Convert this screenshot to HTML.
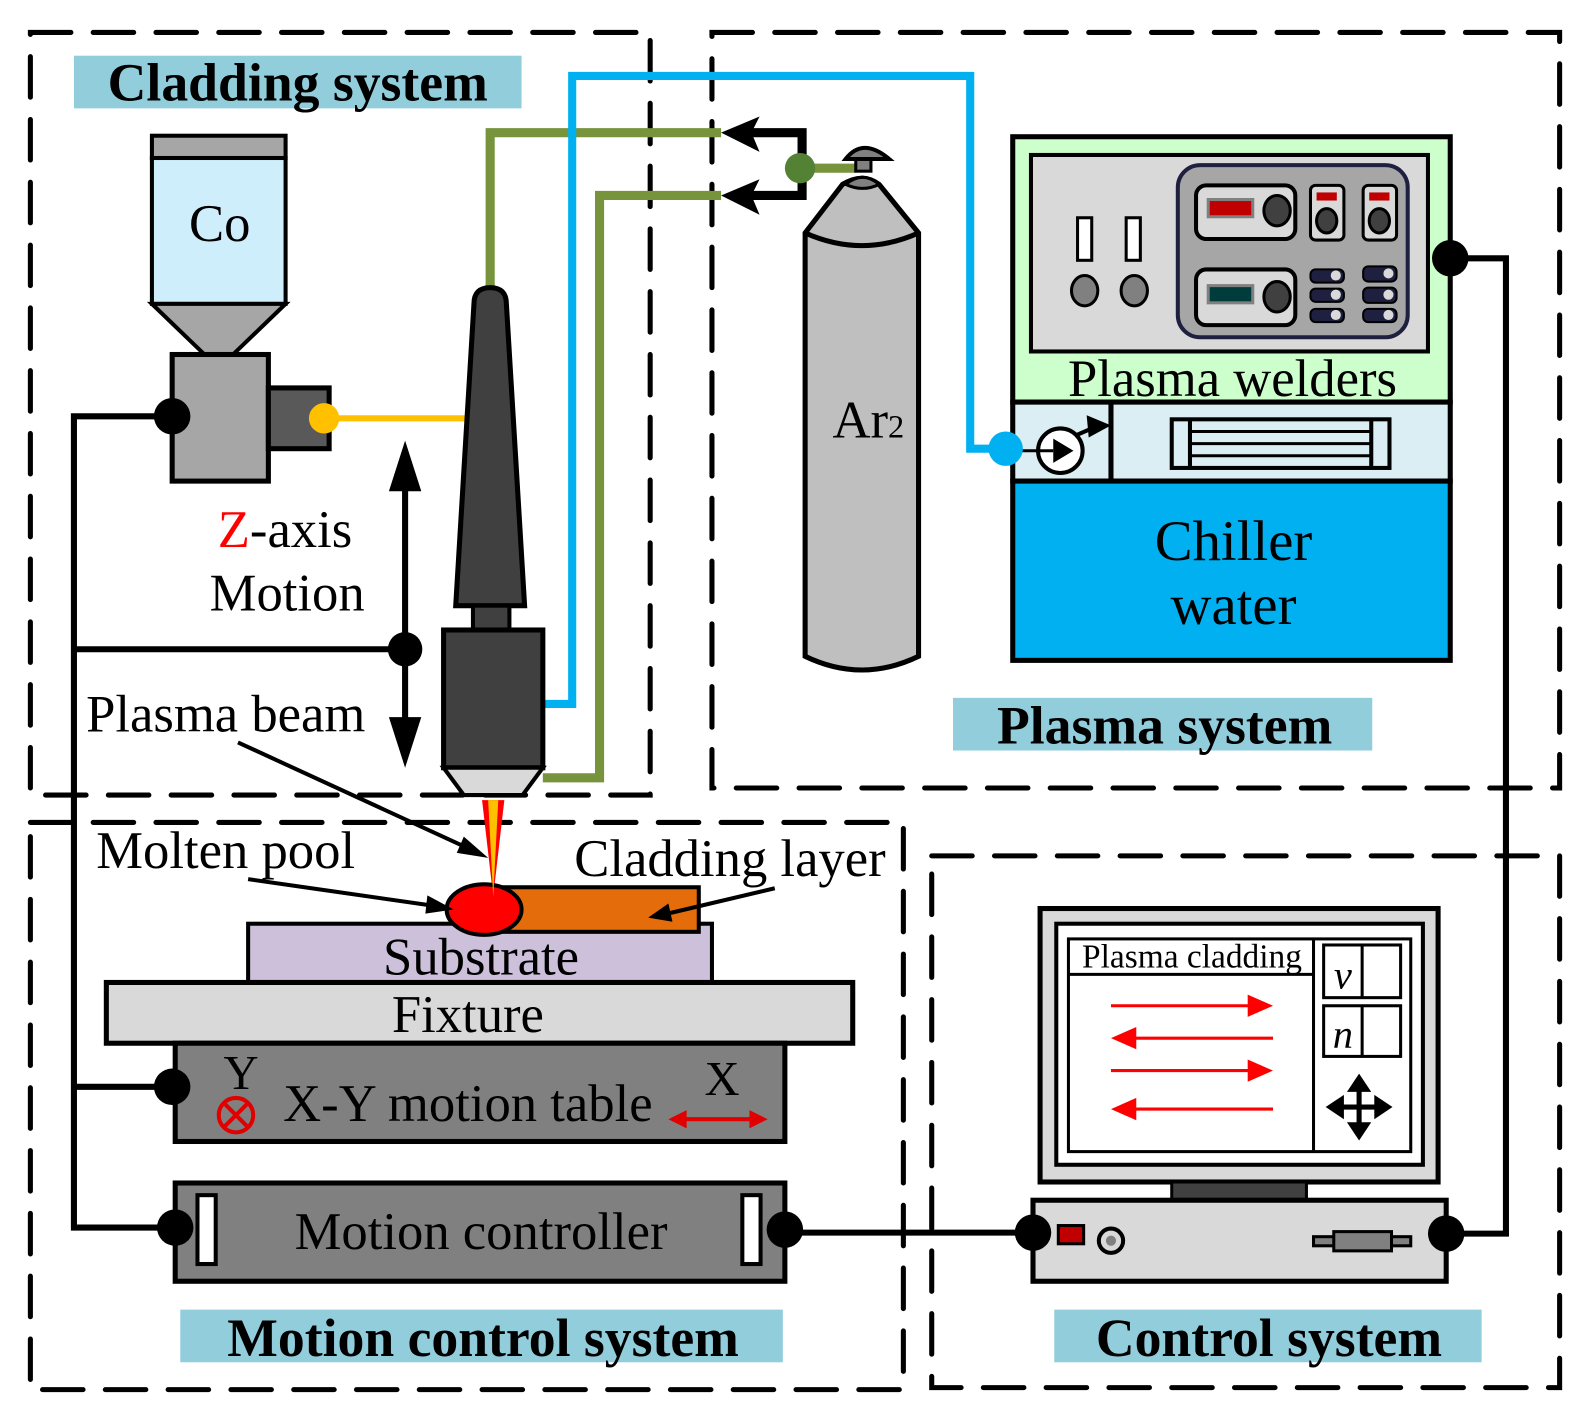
<!DOCTYPE html>
<html><head><meta charset="utf-8"><style>
html,body{margin:0;padding:0;background:#fff;}
svg{display:block;}
text{font-family:"Liberation Serif",serif;}
</style></head><body>
<svg width="1590" height="1419" viewBox="0 0 1570 1401" preserveAspectRatio="none" xmlns="http://www.w3.org/2000/svg">
<!-- dashed boxes -->
<g fill="none" stroke="#000" stroke-width="5" stroke-dasharray="40 22" stroke-linecap="round">
<rect x="30" y="32" width="612" height="753"/>
<rect x="703" y="32" width="837" height="746"/>
<rect x="30" y="812" width="862" height="560"/>
<rect x="920" y="845" width="620" height="525"/>
</g>
<!-- labels -->
<rect x="73" y="55" width="442" height="52" fill="#92CDDC"/>
<text x="294" y="99" font-size="53" font-weight="bold" text-anchor="middle">Cladding system</text>
<rect x="941" y="689" width="414" height="52" fill="#92CDDC"/>
<text x="1150" y="734" font-size="53" font-weight="bold" text-anchor="middle">Plasma system</text>
<rect x="178" y="1293" width="595" height="52" fill="#92CDDC"/>
<text x="477" y="1339" font-size="53" font-weight="bold" text-anchor="middle">Motion control system</text>
<rect x="1041" y="1293" width="422" height="52" fill="#92CDDC"/>
<text x="1253" y="1339" font-size="53" font-weight="bold" text-anchor="middle">Control system</text>

<!-- black wires -->
<g fill="none" stroke="#000" stroke-width="6">
<polyline points="170,411 73,411 73,1212 173,1212"/>
<line x1="73" y1="641" x2="400" y2="641"/>
<line x1="73" y1="1073" x2="170" y2="1073"/>
<polyline points="1432,255 1487,255 1487,1218 1428,1218"/>
<line x1="775" y1="1217" x2="1020" y2="1217"/>
</g>
<!-- Z arrow -->
<line x1="400" y1="470" x2="400" y2="725" stroke="#000" stroke-width="6"/>
<polygon points="400,435 384,485 416,485" fill="#000"/>
<polygon points="400,758 384,708 416,708" fill="#000"/>
<circle cx="400" cy="641" r="17" fill="#000"/>
<text x="215" y="540" font-size="52"><tspan fill="#ff0000">Z</tspan>-axis</text>
<text x="207" y="603" font-size="52">Motion</text>
<text x="85" y="722" font-size="52">Plasma beam</text>

<!-- hopper -->
<rect x="150" y="134" width="132" height="22" fill="#a6a6a6" stroke="#000" stroke-width="4"/>
<rect x="150" y="156" width="132" height="144" fill="#cfeefc" stroke="#000" stroke-width="4"/>
<polygon points="150,300 282,300 228,352 204,352" fill="#a6a6a6" stroke="#000" stroke-width="4"/>
<text x="217" y="238" font-size="52" text-anchor="middle">Co</text>
<rect x="170" y="350" width="95" height="125" fill="#a6a6a6" stroke="#000" stroke-width="5"/>
<rect x="265" y="383" width="60" height="60" fill="#595959" stroke="#000" stroke-width="5"/>
<line x1="320" y1="413" x2="460" y2="413" stroke="#ffc000" stroke-width="6"/>
<circle cx="320" cy="413" r="15" fill="#ffc000"/>
<circle cx="170" cy="411" r="18" fill="#000"/>

<!-- green gas lines -->
<g fill="none" stroke="#77933c" stroke-width="9">
<polyline points="484,290 484,131 712,131"/>
<polyline points="536,768 592,768 592,193 712,193"/>
<line x1="790" y1="166" x2="845" y2="166"/>
</g>
<polyline points="735,131 792,131 792,193 735,193" fill="none" stroke="#000" stroke-width="9"/>
<polygon points="712,131 750,115 742,131 750,150" fill="#000"/>
<polygon points="712,193 750,177 742,193 750,212" fill="#000"/>
<circle cx="790" cy="166" r="15" fill="#548235"/>
<!-- blue water line -->
<polyline points="536,695 565,695 565,75 958,75 958,443 993,443" fill="none" stroke="#00b0f0" stroke-width="8"/>

<!-- torch -->
<path d="M468,300 Q468,284 484,284 Q500,284 500,300 L518,598 L450,598 Z" fill="#404040" stroke="#000" stroke-width="5"/>
<rect x="467" y="598" width="36" height="24" fill="#404040" stroke="#000" stroke-width="4"/>
<rect x="438" y="622" width="98" height="136" fill="#404040" stroke="#000" stroke-width="5"/>
<polygon points="438,758 536,758 516,785 458,785" fill="#d9d9d9" stroke="#000" stroke-width="4"/>
<polygon points="476,790 498,790 487,885" fill="#ff0000"/>

<!-- Ar cylinder -->
<path d="M795,230 L832,182 Q852,170 868,182 L907,230 L907,648 Q851,675 795,648 Z" fill="#bfbfbf" stroke="#000" stroke-width="5"/>
<path d="M795,230 Q851,255 907,230" fill="none" stroke="#000" stroke-width="5"/>
<path d="M835,182 Q852,168 868,182 Q852,190 835,182Z" fill="#808080" stroke="#000" stroke-width="3"/>
<rect x="845" y="157" width="15" height="12" fill="#808080" stroke="#000" stroke-width="3"/>
<path d="M835,157 Q852,135 878,157 Z" fill="#808080" stroke="#000" stroke-width="4"/>
<text x="822" y="432" font-size="52">Ar<tspan font-size="32">2</tspan></text>

<!-- plasma welders -->
<rect x="1000" y="135" width="432" height="262" fill="#ccffcc" stroke="#000" stroke-width="5"/>
<rect x="1018" y="153" width="392" height="194" fill="#d9d9d9" stroke="#000" stroke-width="4"/>
<rect x="1163" y="163" width="227" height="170" rx="22" fill="#a6a6a6" stroke="#1f2040" stroke-width="4"/>
<rect x="1064" y="215" width="14" height="42" fill="#fff" stroke="#000" stroke-width="3"/>
<rect x="1112" y="215" width="14" height="42" fill="#fff" stroke="#000" stroke-width="3"/>
<ellipse cx="1071" cy="287" rx="13" ry="15" fill="#808080" stroke="#000" stroke-width="3"/>
<ellipse cx="1120" cy="287" rx="13" ry="15" fill="#808080" stroke="#000" stroke-width="3"/>
<rect x="1181" y="183" width="98" height="53" rx="10" fill="#d9d9d9" stroke="#000" stroke-width="4"/>
<rect x="1193" y="197" width="44" height="17" fill="#c00000" stroke="#808080" stroke-width="3"/>
<ellipse cx="1261" cy="208" rx="13" ry="15" fill="#404040" stroke="#000" stroke-width="3"/>
<rect x="1181" y="266" width="98" height="55" rx="10" fill="#d9d9d9" stroke="#000" stroke-width="4"/>
<rect x="1193" y="282" width="44" height="17" fill="#003c3c" stroke="#808080" stroke-width="3"/>
<ellipse cx="1261" cy="293" rx="13" ry="15" fill="#404040" stroke="#000" stroke-width="3"/>
<rect x="1294" y="183" width="33" height="54" rx="5" fill="#d9d9d9" stroke="#000" stroke-width="3"/>
<rect x="1300" y="190" width="20" height="8" fill="#c00000"/>
<ellipse cx="1310" cy="218" rx="10" ry="12" fill="#404040" stroke="#000" stroke-width="3"/>
<rect x="1346" y="183" width="33" height="54" rx="5" fill="#d9d9d9" stroke="#000" stroke-width="3"/>
<rect x="1352" y="190" width="20" height="8" fill="#c00000"/>
<ellipse cx="1362" cy="218" rx="10" ry="12" fill="#404040" stroke="#000" stroke-width="3"/>
<g fill="#1f2040" stroke="#000" stroke-width="2">
<rect x="1294" y="266" width="33" height="13" rx="5"/><rect x="1294" y="285" width="33" height="13" rx="5"/><rect x="1294" y="305" width="33" height="13" rx="5"/>
<rect x="1346" y="263" width="33" height="15" rx="5"/><rect x="1346" y="284" width="33" height="15" rx="5"/><rect x="1346" y="305" width="33" height="13" rx="5"/>
</g>
<g fill="#d9d9d9"><circle cx="1319" cy="272" r="5"/><circle cx="1319" cy="291" r="5"/><circle cx="1319" cy="311" r="5"/><circle cx="1371" cy="270" r="5"/><circle cx="1371" cy="291" r="5"/><circle cx="1371" cy="311" r="5"/></g>
<text x="1217" y="391" font-size="52" text-anchor="middle">Plasma welders</text>
<rect x="1000" y="397" width="432" height="78" fill="#daeef3" stroke="#000" stroke-width="5"/>
<line x1="1097" y1="397" x2="1097" y2="475" stroke="#000" stroke-width="5"/>
<rect x="1157" y="414" width="215" height="48" fill="none" stroke="#000" stroke-width="4"/>
<line x1="1175" y1="414" x2="1175" y2="462" stroke="#000" stroke-width="4"/>
<line x1="1354" y1="414" x2="1354" y2="462" stroke="#000" stroke-width="4"/>
<g stroke="#000" stroke-width="3"><line x1="1175" y1="426" x2="1354" y2="426"/><line x1="1175" y1="438" x2="1354" y2="438"/><line x1="1175" y1="450" x2="1354" y2="450"/></g>
<circle cx="1047" cy="445" r="22" fill="#fff" stroke="#000" stroke-width="4"/>
<line x1="993" y1="445" x2="1040" y2="445" stroke="#000" stroke-width="3"/>
<polygon points="1040,433 1060,445 1040,457" fill="#000"/>
<line x1="1062" y1="430" x2="1085" y2="420" stroke="#000" stroke-width="4"/>
<polygon points="1073,410 1097,420 1075,432" fill="#000"/>
<circle cx="993" cy="443" r="17" fill="#00b0f0"/>
<rect x="1000" y="475" width="432" height="177" fill="#00b0f0" stroke="#000" stroke-width="5"/>
<text x="1218" y="553" font-size="56" text-anchor="middle">Chiller</text>
<text x="1218" y="616" font-size="56" text-anchor="middle">water</text>
<circle cx="1432" cy="255" r="18" fill="#000"/>

<!-- workpiece -->
<rect x="245" y="912" width="458" height="58" fill="#ccc0da" stroke="#000" stroke-width="4"/>
<text x="475" y="962" font-size="52" text-anchor="middle">Substrate</text>
<rect x="490" y="876" width="200" height="44" fill="#e46c0a" stroke="#000" stroke-width="4"/>
<ellipse cx="478" cy="898" rx="37" ry="25" fill="#ff0000" stroke="#000" stroke-width="4"/>
<polygon points="482,790 492,790 487,885" fill="#ffc000"/>
<rect x="105" y="970" width="737" height="60" fill="#d9d9d9" stroke="#000" stroke-width="5"/>
<text x="462" y="1019" font-size="52" text-anchor="middle">Fixture</text>
<rect x="173" y="1030" width="602" height="97" fill="#808080" stroke="#000" stroke-width="5"/>
<text x="462" y="1107" font-size="52" text-anchor="middle">X-Y motion table</text>
<text x="238" y="1075" font-size="48" text-anchor="middle">Y</text>
<circle cx="233" cy="1101" r="17" fill="none" stroke="#e00000" stroke-width="4"/>
<path d="M221,1089 L245,1113 M245,1089 L221,1113" stroke="#e00000" stroke-width="4"/>
<text x="713" y="1081" font-size="48" text-anchor="middle">X</text>
<line x1="672" y1="1105" x2="746" y2="1105" stroke="#e00000" stroke-width="4"/>
<polygon points="660,1105 678,1096 678,1114" fill="#e00000"/>
<polygon points="758,1105 740,1096 740,1114" fill="#e00000"/>
<circle cx="170" cy="1073" r="18" fill="#000"/>
<rect x="173" y="1168" width="602" height="97" fill="#808080" stroke="#000" stroke-width="5"/>
<rect x="195" y="1180" width="18" height="68" fill="#fff" stroke="#000" stroke-width="4"/>
<rect x="733" y="1180" width="18" height="68" fill="#fff" stroke="#000" stroke-width="4"/>
<text x="475" y="1233" font-size="52" text-anchor="middle">Motion controller</text>
<circle cx="173" cy="1212" r="18" fill="#000"/>
<circle cx="775" cy="1214" r="18" fill="#000"/>

<!-- annotation arrows -->
<g stroke="#000" stroke-width="4" fill="none">
<line x1="235" y1="733" x2="472" y2="842"/>
<line x1="245" y1="868" x2="440" y2="896"/>
<line x1="765" y1="877" x2="655" y2="903"/>
</g>
<polygon points="482,847 458,826 451,842" fill="#000"/>
<polygon points="448,898 422,884 420,902" fill="#000"/>
<polygon points="640,906 660,892 664,910" fill="#000"/>
<text x="95" y="857" font-size="52">Molten pool</text>
<text x="567" y="865" font-size="52">Cladding layer</text>

<!-- computer -->
<rect x="1027" y="897" width="393" height="270" fill="#d9d9d9" stroke="#000" stroke-width="5"/>
<rect x="1043" y="912" width="362" height="238" fill="#fff" stroke="#000" stroke-width="4"/>
<rect x="1055" y="927" width="338" height="210" fill="#fff" stroke="#000" stroke-width="3"/>
<line x1="1055" y1="962" x2="1297" y2="962" stroke="#000" stroke-width="3"/>
<line x1="1297" y1="927" x2="1297" y2="1137" stroke="#000" stroke-width="3"/>
<text x="1177" y="955" font-size="33" text-anchor="middle">Plasma cladding</text>
<rect x="1307" y="933" width="76" height="52" fill="#fff" stroke="#000" stroke-width="3"/>
<line x1="1345" y1="933" x2="1345" y2="985" stroke="#000" stroke-width="3"/>
<text x="1326" y="976" font-size="40" font-style="italic" text-anchor="middle">v</text>
<rect x="1307" y="993" width="76" height="50" fill="#fff" stroke="#000" stroke-width="3"/>
<line x1="1345" y1="993" x2="1345" y2="1043" stroke="#000" stroke-width="3"/>
<text x="1326" y="1034" font-size="40" font-style="italic" text-anchor="middle">n</text>
<g stroke="#ff0000" stroke-width="3">
<line x1="1097" y1="993" x2="1245" y2="993"/><line x1="1110" y1="1025" x2="1257" y2="1025"/>
<line x1="1097" y1="1057" x2="1245" y2="1057"/><line x1="1110" y1="1095" x2="1257" y2="1095"/>
</g>
<g fill="#ff0000">
<polygon points="1257,993 1232,982 1232,1004"/><polygon points="1097,1025 1122,1014 1122,1036"/>
<polygon points="1257,1057 1232,1046 1232,1068"/><polygon points="1097,1095 1122,1084 1122,1106"/>
</g>
<g fill="#000">
<polygon points="1342,1060 1330,1078 1354,1078"/><polygon points="1342,1126 1330,1108 1354,1108"/>
<polygon points="1309,1093 1327,1081 1327,1105"/><polygon points="1375,1093 1357,1081 1357,1105"/>
</g>
<path d="M1342,1074 V1112 M1323,1093 H1361" stroke="#000" stroke-width="5"/>
<rect x="1157" y="1167" width="133" height="18" fill="#404040" stroke="#000" stroke-width="3"/>
<rect x="1020" y="1185" width="408" height="80" fill="#d9d9d9" stroke="#000" stroke-width="5"/>
<rect x="1045" y="1210" width="25" height="18" fill="#c00000" stroke="#000" stroke-width="3"/>
<circle cx="1097" cy="1225" r="12" fill="none" stroke="#000" stroke-width="4"/>
<circle cx="1097" cy="1225" r="5" fill="#808080"/>
<rect x="1297" y="1221" width="96" height="9" fill="#808080" stroke="#000" stroke-width="3"/>
<rect x="1317" y="1216" width="57" height="19" fill="#808080" stroke="#000" stroke-width="3"/>
<circle cx="1020" cy="1217" r="18" fill="#000"/>
<circle cx="1428" cy="1218" r="18" fill="#000"/>
</svg>
</body></html>
